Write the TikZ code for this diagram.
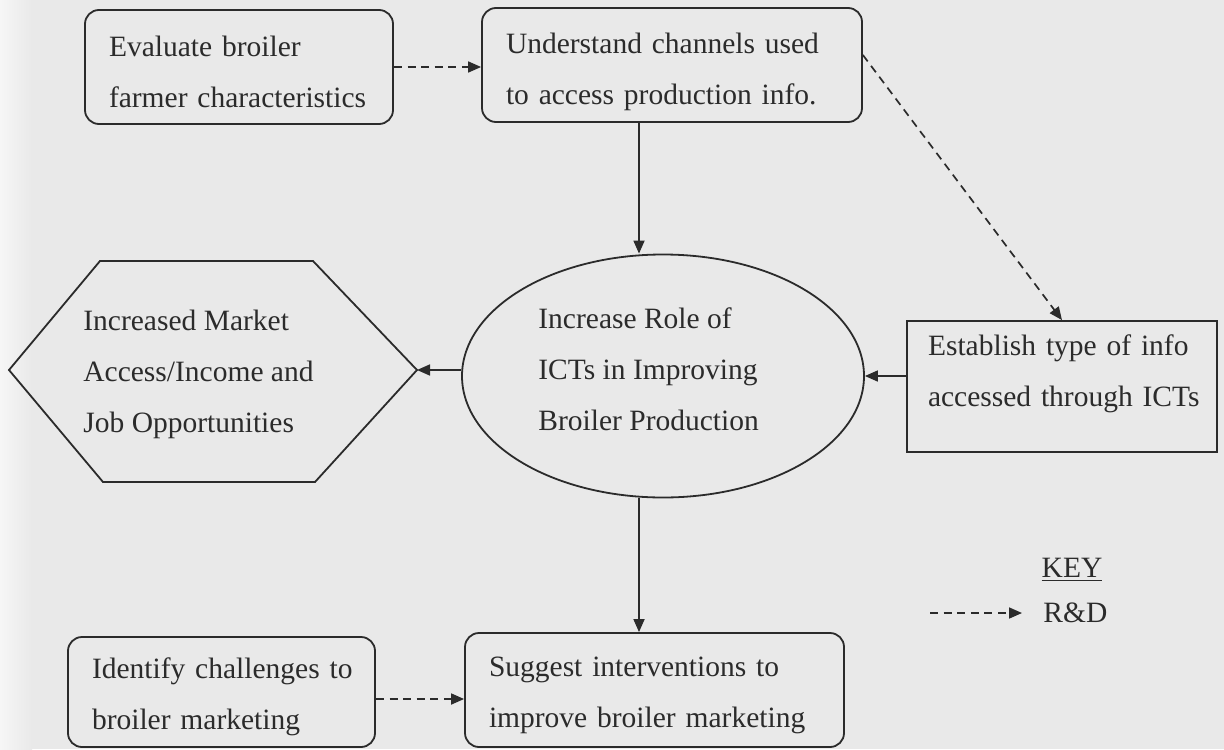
\documentclass[tikz,border=0pt]{standalone}
\usepackage{fontspec}
\setmainfont{Liberation Serif}
\usepackage{xcolor}
\definecolor{pageGray}{HTML}{E9E9E9}
\definecolor{pageEdge}{HTML}{F6F6F6}
\definecolor{inkDark}{HTML}{2B2B2B}
\usepackage{tikz}
\usetikzlibrary{arrows.meta, positioning, shapes.geometric}

\newcommand{\toppad}[1]{\rule{0pt}{#1}}
\newcommand{\botpad}[1]{\rule[-#1]{0pt}{#1}}

\begin{document}
\begin{tikzpicture}[
		x=0.5pt, y=-0.5pt,
		every node/.style={text=inkDark, font=\fontsize{14.75}{25.5}\selectfont},
		box/.style={
			draw=inkDark,
			line width=0.9pt,
			rounded corners=7pt,
			minimum height=57pt,
			inner xsep=12pt,
			inner ysep=0pt,
			align=left
		},
		plainbox/.style={
			draw=inkDark,
			line width=0.9pt,
			minimum height=65.5pt,
			inner xsep=10.5pt,
			inner ysep=0pt,
			align=left
		},
		arrow/.style={-{Triangle[length=6.5pt,width=5.5pt]}, line width=0.85pt, draw=inkDark},
		dasharrow/.style={arrow, dash pattern=on 4pt off 2.8pt}
		]
		
		\useasboundingbox (0,0) rectangle (1224,749);
		\fill[pageGray] (0,0) rectangle (1224,749);
		\shade[left color=pageEdge, right color=pageGray] (0,0) rectangle (32,749);
		
		\node[box, text width=130pt] (evaluate) at (239,67) {\toppad{15pt}\mbox{Evaluate broiler}\\\mbox{farmer characteristics}};
		\node[box, text width=166pt] (channels) at (672,65) {\toppad{17pt}\mbox{Understand channels used}\\\mbox{to access production info.}};
		\node[box, text width=129.5pt, minimum height=55pt] (challenges) at (221.5,692) {\toppad{15pt}\mbox{Identify challenges to}\\\mbox{broiler marketing}};
		\node[box, text width=165.5pt] (interventions) at (654.5,690) {\toppad{15pt}\mbox{Suggest interventions to}\\\mbox{improve broiler marketing}};
		\node[plainbox, text width=134pt] (infotype) at (1062,386.5) {\mbox{Establish type of info}\\\mbox{accessed through ICTs}\botpad{16pt}};
		
		\node[draw=inkDark, line width=0.9pt, ellipse, minimum width=201pt, minimum height=121.5pt, inner sep=0pt] (ictrole) at (663,376) {};
		\node[anchor=west, align=left, inner sep=0pt] (ictlabel) at (538,369) {Increase Role of\\ICTs in Improving\\Broiler Production};
		
		\draw[inkDark, line width=0.9pt] (9,370) -- (100,261) -- (313,261) -- (417,370) -- (315,482) -- (103,482) -- cycle;
		\coordinate (outcometip) at (417,370);
		\node[anchor=west, align=left, inner sep=0pt] (outcome) at (83,374) {Increased Market\\Access/Income and\\Job Opportunities};
		
		\coordinate (spine) at (639,0);
		
		\draw[dasharrow] (evaluate.east) -- (evaluate.east -| channels.west);
		\draw[dasharrow] ([yshift=5pt]channels.east) -- (infotype.north);
		\draw[arrow] (channels.south -| spine) -- (ictrole.north -| spine);
		\draw[arrow] (infotype.west |- ictrole.east) -- (ictrole.east);
		\draw[arrow] (ictrole.west |- outcometip) -- (outcometip);
		\draw[arrow] (ictrole.south -| spine) -- (interventions.north -| spine);
		\draw[dasharrow] ([yshift=-3.5pt]challenges.east) -- ([yshift=-3.5pt]challenges.east -| interventions.west);
		
		\node (keytitle) at (1072,570) {\underline{KEY}};
		\node[anchor=west, inner xsep=10.5pt, inner ysep=0pt] (rdlabel) at (1022,613) {R\&D};
		\coordinate (keytail) at (930,613);
		\draw[dasharrow] (keytail) -- (rdlabel.west);
		
	\end{tikzpicture}
\end{document}
